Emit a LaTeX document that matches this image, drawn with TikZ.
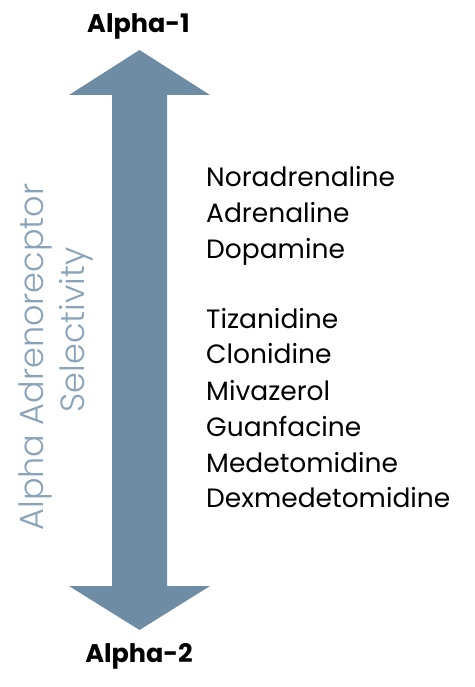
\documentclass[tikz,border=0pt]{standalone}
\usepackage{fontspec}
\setmainfont{Poppins}
\newfontfamily\axisfont{Poppins}[UprightFont=* Light]
\newfontfamily\endfont{Poppins}[UprightFont=* Bold]
\definecolor{arrowblue}{HTML}{6F8CA5}
\definecolor{labelblue}{HTML}{8BA3B9}
\tikzset{
  drug/.style={anchor=base west, inner sep=0pt, font=\fontsize{26.5}{30}\selectfont},
  endlabel/.style={anchor=base, inner sep=0pt, font=\endfont\fontsize{25.5}{30}\selectfont},
  axislabel/.style={anchor=base, inner sep=0pt, rotate=90, text=labelblue, font=\axisfont\fontsize{33.5}{40}\selectfont}
}
\begin{document}
\begin{tikzpicture}[x=1pt,y=-1pt]
\useasboundingbox (0,0) rectangle (474,687);
\fill[white] (0,0) rectangle (474,687);
% double-headed block arrow
\fill[arrowblue] (139.5,50) -- (210,95) -- (167,95) -- (167,586) -- (210,586)
  -- (139.5,630) -- (69,586) -- (112,586) -- (112,95) -- (69,95) -- cycle;
\node[endlabel] (a1) at (138.5,33) {Alpha-1};
\node[endlabel] (a2) at (139,662) {Alpha-2};
\node[axislabel] (ax1) at (43,357) {Alpha Adrenorecptor};
\node[axislabel] (ax2) at (84,330) {Selectivity};
\node[drug] (d1) at (206,186) {Noradrenaline};
\node[drug] (d2) at (206,222) {Adrenaline};
\node[drug] (d3) at (206,258) {Dopamine};
\node[drug] (d4) at (206,328) {Tizanidine};
\node[drug] (d5) at (206,363) {Clonidine};
\node[drug] (d6) at (206,400) {Mivazerol};
\node[drug] (d7) at (206,436) {Guanfacine};
\node[drug] (d8) at (206,472) {Medetomidine};
\node[drug] (d9) at (206,507) {Dexmedetomidine};
\end{tikzpicture}
\end{document}
